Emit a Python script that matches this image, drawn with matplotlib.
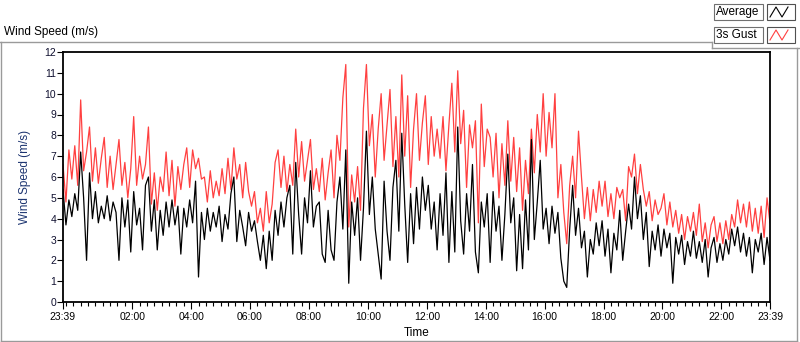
import numpy as np
import matplotlib
matplotlib.use("Agg")
import matplotlib.pyplot as plt
from matplotlib.patches import Rectangle
from matplotlib.lines import Line2D

plt.rcParams['font.family'] = ['Liberation Sans', 'DejaVu Sans']

# samples every 6 minutes, starting 23:39
step_min = 6
start_label = '23:39'

gust = [6.6, 4.8, 7.3, 5.9, 7.5, 5.6, 9.7, 6.3, 7.2, 8.4, 5.8, 7.4, 5.7, 6.9, 7.9, 5.5,
        7.0, 5.4, 6.6, 7.8, 5.6, 6.7, 5.0, 6.4, 8.9, 5.6, 7.0, 5.9, 6.6, 8.4, 4.7, 6.2,
        4.4, 6.0, 5.3, 7.2, 5.1, 6.8, 4.6, 6.5, 5.4, 6.6, 7.4, 5.5, 7.3, 6.4, 6.9, 5.9,
        6.0, 4.8, 6.3, 5.0, 5.8, 5.1, 6.4, 5.2, 6.9, 5.4, 7.4, 5.9, 6.6, 5.0, 6.7, 5.3,
        4.6, 5.3, 3.8, 4.5, 3.4, 5.3, 3.8, 4.7, 6.7, 7.3, 5.5, 7.0, 5.3, 6.6, 5.6, 8.3,
        6.0, 7.7, 5.8, 6.8, 7.8, 5.4, 6.4, 5.3, 6.9, 4.9, 6.2, 7.3, 5.0, 8.0, 6.8, 9.8,
        11.4, 3.6, 6.1, 4.8, 6.5, 4.4, 9.3, 11.4, 7.5, 9.0, 6.0, 8.3, 10.0, 6.8, 8.5, 10.2,
        6.5, 8.9, 6.0, 10.9, 7.0, 9.9, 5.5, 8.3, 10.0, 6.8, 8.6, 9.9, 6.6, 8.9, 7.0, 8.3,
        6.9, 8.9, 6.3, 8.5, 10.5, 7.2, 11.1, 7.6, 9.2, 5.5, 8.5, 7.4, 8.7, 3.8, 9.5, 6.5,
        8.3, 7.9, 6.0, 8.1, 5.0, 7.6, 5.6, 8.7, 5.8, 7.9, 5.3, 7.4, 4.4, 6.8, 5.2, 8.3,
        6.2, 9.0, 7.2, 10.0, 7.0, 9.1, 7.4, 10.0, 5.0, 6.6, 4.3, 2.8, 5.6, 7.0, 5.0, 8.2,
        6.0, 4.0, 5.5, 3.9, 5.4, 4.3, 5.8, 4.6, 5.8, 4.1, 5.2, 4.0, 5.5, 5.0, 5.4, 3.9,
        6.5, 6.0, 7.1, 5.2, 6.6, 5.4, 4.6, 5.3, 3.9, 4.9, 4.2, 4.5, 5.2, 3.7, 4.8, 3.6,
        4.4, 3.3, 4.2, 3.0, 4.1, 3.4, 4.3, 3.2, 4.7, 2.9, 3.8, 2.6, 3.7, 4.1, 2.9, 3.8,
        2.8, 3.9, 3.0, 4.2, 3.6, 4.9, 3.8, 4.7, 3.6, 4.8, 3.4, 4.5, 3.3, 4.6, 3.1, 5.0,
        3.8]

average = [5.4, 3.7, 4.9, 4.1, 5.2, 4.4, 7.2, 5.0, 2.0, 6.2, 4.0, 5.3, 3.8, 4.6, 4.0, 5.1,
           3.9, 4.8, 4.3, 2.0, 5.0, 3.6, 4.9, 2.4, 5.3, 3.7, 4.5, 2.5, 5.6, 6.0, 3.4, 4.9,
           2.5, 4.4, 3.2, 4.8, 3.6, 4.9, 3.7, 4.6, 2.3, 4.5, 3.6, 4.9, 3.8, 5.8, 1.2, 4.3,
           3.0, 4.5, 3.4, 4.3, 3.6, 4.6, 2.9, 4.2, 3.5, 5.2, 6.0, 2.9, 4.4, 3.6, 2.7, 4.3,
           3.4, 3.9, 2.9, 2.0, 3.2, 1.6, 3.4, 2.0, 4.4, 3.2, 4.8, 3.6, 5.0, 5.6, 2.3, 6.7,
           4.2, 2.3, 5.0, 3.8, 6.3, 3.6, 4.6, 4.8, 2.3, 1.9, 4.4, 2.5, 2.0, 4.8, 6.0, 3.5,
           7.3, 0.9, 4.8, 3.2, 5.0, 2.0, 4.5, 8.2, 4.2, 6.0, 3.5, 2.3, 1.1, 5.8, 3.4, 2.0,
           5.5, 6.8, 3.4, 8.1, 4.7, 1.9, 5.2, 2.8, 5.5, 3.5, 6.0, 4.4, 5.6, 3.5, 4.8, 2.5,
           5.2, 3.2, 6.2, 1.9, 5.3, 2.4, 8.4, 3.9, 2.3, 5.2, 3.4, 6.6, 2.4, 1.4, 4.8, 3.6,
           5.2, 1.9, 5.3, 3.4, 4.6, 2.0, 4.2, 7.1, 3.8, 5.0, 1.5, 4.2, 1.6, 4.9, 2.5, 7.8,
           3.0, 4.8, 6.8, 3.5, 4.5, 2.8, 4.6, 3.3, 4.3, 2.1, 1.0, 0.7, 3.5, 5.6, 3.2, 4.5,
           2.6, 3.4, 1.2, 3.0, 2.3, 3.8, 2.7, 3.9, 2.2, 3.5, 1.4, 3.3, 2.5, 4.4, 2.0, 3.4,
           4.7, 3.5, 6.0, 4.0, 5.1, 3.0, 4.3, 1.7, 3.4, 2.5, 3.7, 2.2, 3.5, 2.6, 3.3, 0.9,
           3.1, 2.3, 3.2, 1.8, 2.9, 2.2, 3.4, 2.1, 2.9, 1.9, 3.0, 1.2, 2.6, 3.1, 1.9, 2.8,
           2.0, 3.0, 2.3, 3.5, 2.7, 3.6, 2.4, 3.3, 2.2, 3.1, 1.4, 3.0, 2.4, 3.3, 1.8, 3.1,
           2.0]

time_labels = ['23:39', '02:00', '04:00', '06:00', '08:00', '10:00', '12:00',
               '14:00', '16:00', '18:00', '20:00', '22:00', '23:39']
y_ticks = list(range(0, 13))

series_names = ['Average', '3s Gust']
series_colors = ['black', '#ff4040']

W, H = 800, 342


def fxy(x, y):
    # pixel coords (from top-left) -> figure fraction
    return x / W, 1 - y / H


def mins(label):
    h, m = label.split(':')
    h0, m0 = start_label.split(':')
    return ((int(h) * 60 + int(m)) - (int(h0) * 60 + int(m0))) % 1440


fig = plt.figure(figsize=(W / 100, H / 100), dpi=100)
fig.patch.set_facecolor('white')

ax = fig.add_axes([63 / W, 40 / H, 707 / W, 250 / H])
t = np.arange(len(gust)) * step_min
ax.plot(t, gust, color=series_colors[1], lw=0.9)
ax.plot(t, average, color=series_colors[0], lw=0.9)

ax.set_xlim(0, 1440)
ax.set_ylim(0, 12)

xt = [mins(l) for l in time_labels]
xt[-1] = 1440
ax.set_xticks(xt)
ax.set_xticklabels(time_labels)
ax.set_xticks(np.arange(6, 1440, 15), minor=True)
ax.set_yticks(y_ticks)
ax.tick_params(axis='x', which='major', length=5, width=0.8, labelsize=7.5, pad=2, colors='black')
ax.tick_params(axis='x', which='minor', length=3, width=0.8)
ax.tick_params(axis='y', length=4, width=0.8, labelsize=7.5, pad=1)
for lab in ax.get_yticklabels():
    lab.set_color('#101030')
for s in ax.spines.values():
    s.set_linewidth(1.3)

ax.set_ylabel('Wind Speed (m/s)', fontsize=8.5, color='#1c3470')
ax.yaxis.set_label_coords(-(63 - 31) / 707, 0.5)
ax.set_xlabel('Time', fontsize=8.5, va='center')
ax.xaxis.set_label_coords(0.5, -(333 - 302) / 250)

# title of the chart panel
fig.text(*fxy(4, 32), 'Wind Speed (m/s)', fontsize=8.5, va='center', ha='left')

# panel border
gray = '#9a9a9a'
for (x0, y0, x1, y1) in [(0, 42, 712, 42), (0.5, 42, 0.5, 341), (0.5, 341, 797, 341),
                         (797, 48, 797, 341), (712, 48, 800, 48), (712, 42, 712, 48)]:
    a, b = fxy(x0, y0)
    c, d = fxy(x1, y1)
    fig.add_artist(Line2D([a, c], [b, d], color=gray, lw=1.0))

# legend
for k, name in enumerate(series_names):
    top = 4 + k * 23
    x0, y0 = fxy(714, top + 16)
    fig.add_artist(Rectangle((x0, y0), 49 / W, 16 / H, facecolor='white',
                             edgecolor='#707070', lw=0.8))
    fig.text(*fxy(716, top + 8), name, fontsize=8.5, va='center', ha='left')
    x1, y1 = fxy(767, top + 16)
    fig.add_artist(Rectangle((x1, y1), 28 / W, 16 / H, facecolor='white',
                             edgecolor='#505050', lw=0.8))
    # little zigzag line sample inside the icon box
    pts = [fxy(x, y) for x, y in zip([770, 776, 782, 788],
                                      [top + 13, top + 3, top + 13, top + 3])]
    fig.add_artist(Line2D([p[0] for p in pts], [p[1] for p in pts],
                          color=series_colors[k], lw=0.8))

fig.savefig('out.png', dpi=100)
